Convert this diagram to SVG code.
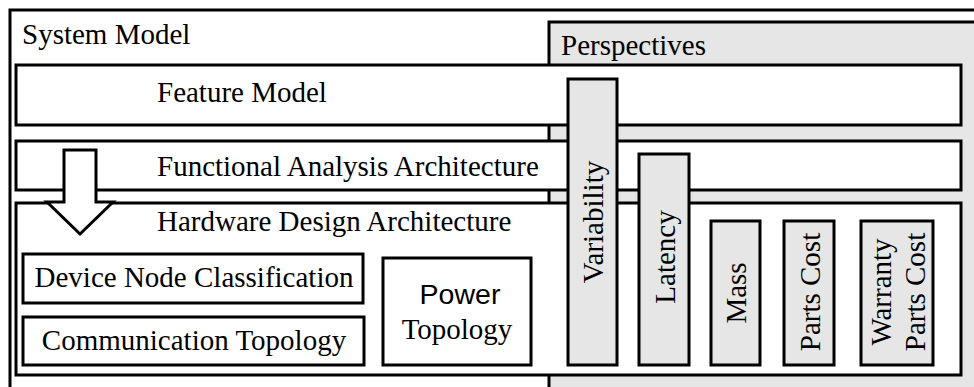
<svg xmlns="http://www.w3.org/2000/svg" width="974" height="387" viewBox="0 0 974 387">
<style>
.b{stroke:#000;stroke-width:3;fill:#fff}
.g{stroke:#000;stroke-width:3;fill:#e6e6e6}
.t{font-family:"Liberation Serif","Times New Roman",serif;font-size:29px;fill:#000}
.s{font-family:"Liberation Sans",Arial,sans-serif;font-size:28.5px;fill:#000}
.m{text-anchor:middle}
</style>
<rect width="974" height="387" fill="#fff"/>
<g id="system-model">
<rect class="b" x="10" y="10" width="1000" height="420"/>
<text class="t" x="22" y="44">System Model</text>
</g>
<g id="perspectives">
<rect class="g" x="549" y="22" width="500" height="420"/>
<text class="t" x="561" y="55">Perspectives</text>
</g>
<g id="feature-model">
<rect class="b" x="16" y="65" width="945" height="60"/>
<text class="t" x="157" y="102">Feature Model</text>
</g>
<g id="functional-analysis">
<rect class="b" x="16" y="141" width="945" height="49"/>
<text class="t" x="157" y="176">Functional Analysis Architecture</text>
</g>
<g id="hardware-design">
<rect class="b" x="16" y="203" width="945" height="172"/>
<text class="t" x="157" y="231">Hardware Design Architecture</text>
</g>
<g id="device-node">
<rect class="b" x="23" y="254" width="340" height="49"/>
<text class="t m" x="194" y="287">Device Node Classification</text>
</g>
<g id="communication-topology">
<rect class="b" x="23" y="317" width="341" height="48"/>
<text class="t m" x="194" y="350">Communication Topology</text>
</g>
<g id="power-topology">
<rect class="b" x="383" y="258" width="148" height="107"/>
<text class="s m" x="460" y="304">Power</text>
<text class="t m" x="457" y="339">Topology</text>
</g>
<g id="connectors">
<polygon class="b" points="64,150 96,150 96,202 113,202 80,234 47,202 64,202"/>
</g>
<g id="variability">
<rect class="g" x="568" y="79" width="49" height="286"/>
<text class="t m" transform="translate(603,222) rotate(-90)">Variability</text>
</g>
<g id="latency">
<rect class="g" x="639" y="154" width="50" height="211"/>
<text class="t m" transform="translate(675,257) rotate(-90)">Latency</text>
</g>
<g id="mass">
<rect class="g" x="711" y="221" width="49" height="144"/>
<text class="t m" transform="translate(746,293) rotate(-90)">Mass</text>
</g>
<g id="parts-cost">
<rect class="g" x="784" y="221" width="50" height="144"/>
<text class="t m" transform="translate(820,292) rotate(-90)">Parts Cost</text>
</g>
<g id="warranty-parts-cost">
<rect class="g" x="861" y="221" width="72" height="144"/>
<text class="t m" transform="translate(891,292) rotate(-90)">Warranty</text>
<text class="t m" transform="translate(925,292) rotate(-90)">Parts Cost</text>
</g>
</svg>
